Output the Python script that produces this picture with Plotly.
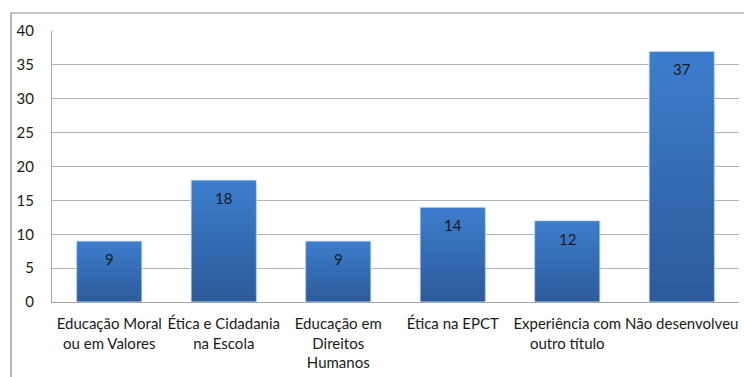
import plotly.graph_objects as go

# Category labels (wrapped as on the axis) and counts
categories = [
    "Educação Moral<br>ou em Valores",
    "Ética e Cidadania<br>na Escola",
    "Educação em<br>Direitos<br>Humanos",
    "Ética na EPCT",
    "Experiência com<br>outro título",
    "Não desenvolveu",
]
values = [9, 18, 9, 14, 12, 37]
y_ticks = [0, 5, 10, 15, 20, 25, 30, 35, 40]

W, H = 744, 377
L, R, T, B = 52, 5, 31, 75
FONT = "Lato"

light = (61, 125, 205)
dark = (44, 91, 154)


def mix(a, b, t):
    return "rgb(%d,%d,%d)" % tuple(round(a[i] + (b[i] - a[i]) * t) for i in range(3))


fig = go.Figure()

# Vertical gradient: stacked overlays, each shorter and darker than the last
steps = 40
for k in range(steps):
    frac = 1 - k / steps
    fig.add_trace(go.Bar(
        x=categories,
        y=[v * frac for v in values],
        width=0.57,
        marker=dict(color=mix(light, dark, k / (steps - 1)), line=dict(width=0)),
        hoverinfo="skip",
        showlegend=False,
    ))

# Thin pale outline on top of every bar
fig.add_trace(go.Bar(
    x=categories,
    y=values,
    width=0.57,
    marker=dict(color="rgba(0,0,0,0)", line=dict(color="rgba(215,228,245,0.9)", width=1)),
    hovertemplate="%{y}<extra></extra>",
    showlegend=False,
))

# Value labels just inside the top of each bar
for c, v in zip(categories, values):
    fig.add_annotation(
        x=c, y=v, text=str(v), showarrow=False, yshift=-18,
        font=dict(family=FONT, size=15, color="#1a1a1a"),
    )

# Chart frame (left and top edges)
pw, ph = W - L - R, H - T - B
x0 = (11 - L) / pw
y0 = (H - B - 13) / ph
fig.add_shape(
    type="path", xref="paper", yref="paper",
    path=f"M {x0} -0.4 L {x0} {y0} L 1.05 {y0}",
    line=dict(color="#8c8c8c", width=1.2),
)

fig.update_layout(
    width=W, height=H,
    margin=dict(l=L, r=R, t=T, b=B, pad=0),
    barmode="overlay",
    plot_bgcolor="white",
    paper_bgcolor="white",
    font=dict(family=FONT, size=15, color="#1a1a1a"),
    xaxis=dict(
        showgrid=False, showline=True, linecolor="#a6a6a6", linewidth=1,
        ticks="", tickfont=dict(family=FONT, size=15, color="#1a1a1a"),
        ticklabelstandoff=8, fixedrange=True,
    ),
    yaxis=dict(
        range=[0, 40], tickvals=y_ticks, showgrid=True, gridcolor="#b3b3b3",
        gridwidth=1, showline=True, linecolor="#a6a6a6", linewidth=1,
        ticks="", ticklabelstandoff=14, zeroline=False,
        tickfont=dict(family=FONT, size=15, color="#1a1a1a"), fixedrange=True,
    ),
    bargap=0.43,
)

fig.write_html("out.html")
